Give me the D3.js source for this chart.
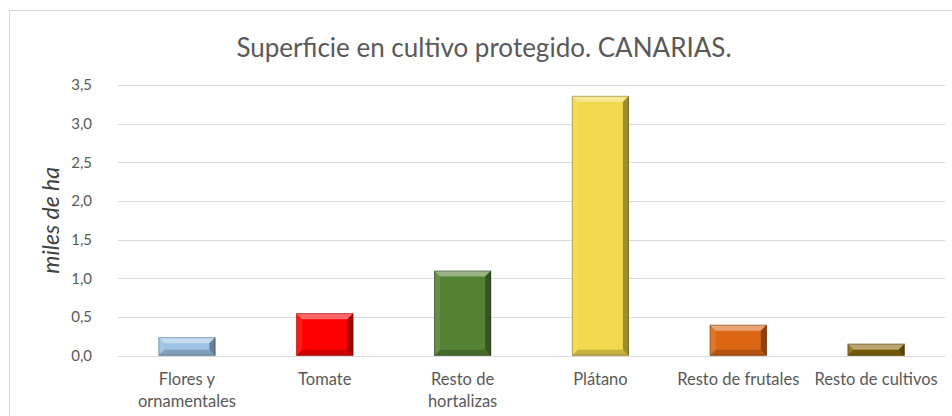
<!DOCTYPE html>
<html>
<head>
<meta charset="utf-8">
<script src="https://cdn.jsdelivr.net/npm/d3@7"></script>
<style>
  body { margin: 0; background: #fff; }
  svg { display: block; font-family: Lato, "Open Sans", sans-serif; }
</style>
</head>
<body>
<svg id="chart" width="952" height="416"></svg>
<script>
// values (miles de ha)
const categories = ['Flores y ornamentales', 'Tomate', 'Resto de hortalizas', 'Plátano', 'Resto de frutales', 'Resto de cultivos'];
const labelLines = [['Flores y', 'ornamentales'], ['Tomate'], ['Resto de', 'hortalizas'], ['Plátano'], ['Resto de frutales'], ['Resto de cultivos']];
const values = [0.24, 0.55, 1.10, 3.36, 0.40, 0.155];
const yTicks = [0, 0.5, 1, 1.5, 2, 2.5, 3, 3.5];
const barColors = ['#9cc2e5', '#ff0000', '#548235', '#f2d84c', '#dd6615', '#8a6a0c'];

const svg = d3.select('#chart');
const margin = { left: 118, right: 7, top: 85, bottom: 60 };
const width = 952, height = 416;

// outer chart border
svg.append('rect')
    .attr('x', 9.5).attr('y', 10.5)
    .attr('width', 960).attr('height', 430)
    .attr('fill', 'none')
    .attr('stroke', '#d9d9d9');

const x = d3.scaleBand()
    .domain(categories)
    .range([margin.left, width - margin.right])
    .paddingInner(0.586)
    .paddingOuter(0.293);

const y = d3.scaleLinear()
    .domain([0, 3.5])
    .range([height - margin.bottom - 0.3, margin.top]);

// gridlines
svg.append('g')
    .selectAll('line')
    .data(yTicks)
    .enter()
    .append('line')
    .attr('x1', margin.left)
    .attr('x2', width - margin.right)
    .attr('y1', d => Math.round(y(d)) + 0.5)
    .attr('y2', d => Math.round(y(d)) + 0.5)
    .style('stroke', '#d9d9d9')
    .style('stroke-width', '1px');

// y tick labels
const fmt = d => d3.format('.1f')(d).replace('.', ',');
svg.append('g')
    .selectAll('text')
    .data(yTicks)
    .enter()
    .append('text')
    .attr('x', 92)
    .attr('y', d => y(d))
    .attr('dy', '0.35em')
    .attr('text-anchor', 'end')
    .style('font-size', '15px')
    .style('fill', '#595959')
    .text(fmt);

// y axis title
svg.append('text')
    .attr('transform', 'translate(59,' + y(1.75) + ') rotate(-90)')
    .attr('text-anchor', 'middle')
    .style('font-size', '23px')
    .style('font-style', 'italic')
    .style('fill', '#404040')
    .text('miles de ha');

// chart title
svg.append('text')
    .attr('x', 484)
    .attr('y', 57)
    .attr('text-anchor', 'middle')
    .style('font-size', '26px')
    .style('fill', '#595959')
    .text('Superficie en cultivo protegido. CANARIAS.');

// bevelled bars
const bev = 6;
const bars = svg.append('g')
    .selectAll('g')
    .data(categories.map((c, i) => ({ c, v: values[i], color: barColors[i] })))
    .enter()
    .append('g');

bars.append('rect')
    .attr('x', d => x(d.c))
    .attr('y', d => y(d.v))
    .attr('width', x.bandwidth())
    .attr('height', d => y(0) - y(d.v))
    .attr('fill', d => d.color);

function facet (d, side) {
    const x0 = x(d.c), x1 = x0 + x.bandwidth();
    const y0 = y(d.v), y1 = y(0);
    const b = Math.min(bev, (y1 - y0) / 2);
    const pts = {
        top: [[x0, y0], [x1, y0], [x1 - b, y0 + b], [x0 + b, y0 + b]],
        bottom: [[x0, y1], [x1, y1], [x1 - b, y1 - b], [x0 + b, y1 - b]],
        left: [[x0, y0], [x0 + b, y0 + b], [x0 + b, y1 - b], [x0, y1]],
        right: [[x1, y0], [x1 - b, y0 + b], [x1 - b, y1 - b], [x1, y1]]
    };
    return pts[side].map(p => p.join(',')).join(' ');
}

const shade = { top: ['#ffffff', 0.4], left: ['#ffffff', 0.1], right: ['#000000', 0.35], bottom: ['#000000', 0.18] };
['top', 'left', 'right', 'bottom'].forEach(side => {
    bars.append('polygon')
        .attr('points', d => facet(d, side))
        .attr('fill', shade[side][0])
        .attr('fill-opacity', shade[side][1]);
});

bars.append('rect')
    .attr('x', d => x(d.c) + 0.5)
    .attr('y', d => y(d.v) + 0.5)
    .attr('width', x.bandwidth() - 1)
    .attr('height', d => y(0) - y(d.v) - 1)
    .attr('fill', 'none')
    .attr('stroke', '#000')
    .attr('stroke-opacity', 0.25);

// x labels
const xl = svg.append('g')
    .selectAll('text')
    .data(categories)
    .enter()
    .append('text')
    .attr('x', d => x(d) + x.bandwidth() / 2)
    .attr('y', 385)
    .attr('text-anchor', 'middle')
    .style('font-size', '16.5px')
    .style('fill', '#595959');

xl.selectAll('tspan')
    .data((d, i) => labelLines[i])
    .enter()
    .append('tspan')
    .attr('x', function () { return d3.select(this.parentNode).attr('x'); })
    .attr('dy', (d, i) => i === 0 ? 0 : 22)
    .text(d => d);
</script>
</body>
</html>
